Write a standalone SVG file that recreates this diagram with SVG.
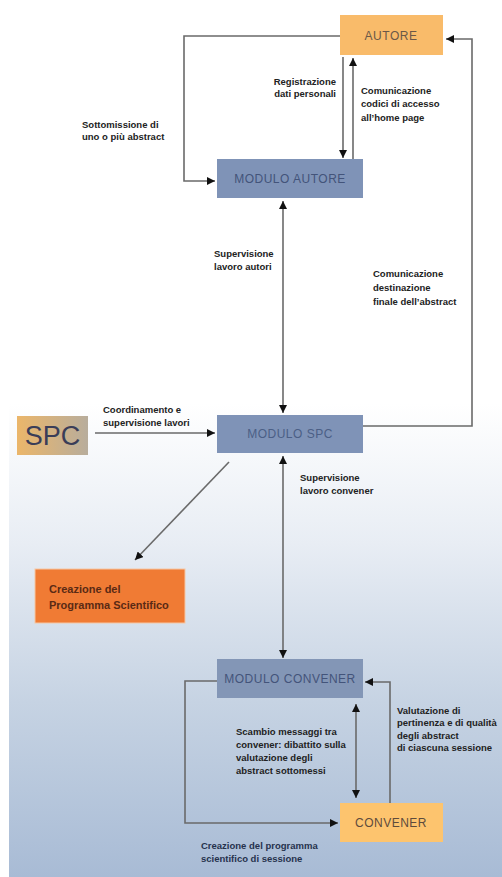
<svg xmlns="http://www.w3.org/2000/svg" width="502" height="877" viewBox="0 0 502 877">
<defs>
<linearGradient id="bg" x1="0" y1="0" x2="0" y2="1">
<stop offset="0" stop-color="#ffffff"/>
<stop offset="0.46" stop-color="#ffffff"/>
<stop offset="0.62" stop-color="#e8edf4"/>
<stop offset="0.8" stop-color="#c6d3e3"/>
<stop offset="1" stop-color="#a8bbd5"/>
</linearGradient>
<linearGradient id="spcg" x1="0" y1="0" x2="1" y2="0">
<stop offset="0" stop-color="#ebb66a"/>
<stop offset="1" stop-color="#b8ad9c"/>
</linearGradient>
<marker id="ah" markerWidth="8" markerHeight="8" refX="8" refY="4" orient="auto-start-reverse" markerUnits="userSpaceOnUse">
<path d="M0,0 L8,4 L0,8 z" fill="#111"/>
</marker>
<style>
.ln{fill:none;stroke:#6a6a6a;stroke-width:1.6}
.lb{font-family:"Liberation Sans",Arial,sans-serif;font-weight:bold;font-size:9.5px;fill:#222}
.mod{fill:#7f93b7}
.mt{font-family:"Liberation Sans",Arial,sans-serif;font-size:12px;letter-spacing:0.5px;fill:#43547a;text-anchor:middle}
.ot{font-family:"Liberation Sans",Arial,sans-serif;font-size:12px;letter-spacing:0.5px;fill:#6b5848;text-anchor:middle}
</style>
</defs>
<rect x="0" y="0" width="502" height="877" fill="#ffffff"/>
<rect x="9" y="0" width="493" height="877" fill="url(#bg)"/>

<g id="connectors">
<path class="ln" d="M340,36 H184 V181 H215" marker-end="url(#ah)"/>
<path class="ln" d="M343,57 V158" marker-end="url(#ah)"/>
<path class="ln" d="M353,159 V58" marker-end="url(#ah)"/>
<path class="ln" d="M283,201 V413" marker-start="url(#ah)" marker-end="url(#ah)"/>
<path class="ln" d="M363,426 H472 V39 H446" marker-end="url(#ah)"/>
<path class="ln" d="M95,433 H215" marker-end="url(#ah)"/>
<path class="ln" d="M229,462 L135,560" marker-end="url(#ah)"/>
<path class="ln" d="M283,456 V658" marker-start="url(#ah)" marker-end="url(#ah)"/>
<path class="ln" d="M217,681 H185 V823 H338" marker-end="url(#ah)"/>
<path class="ln" d="M390,803 V682 H365" marker-end="url(#ah)"/>
<path class="ln" d="M356,704 V798" marker-start="url(#ah)" marker-end="url(#ah)"/>
</g>

<g id="autore">
<rect x="340" y="15" width="103" height="40" fill="#f9bb6a"/>
<text class="ot" x="391" y="40">AUTORE</text>
</g>
<g id="modulo-autore">
<rect class="mod" x="217" y="159" width="146" height="39"/>
<text class="mt" x="290" y="183">MODULO AUTORE</text>
</g>
<g id="spc">
<rect x="17" y="416" width="71" height="39" fill="url(#spcg)"/>
<text x="52.5" y="445" font-family="Liberation Sans,Arial,sans-serif" font-size="27" fill="#3a3d58" text-anchor="middle">SPC</text>
</g>
<g id="modulo-spc">
<rect class="mod" x="217" y="415" width="146" height="38"/>
<text class="mt" x="290" y="438" style="fill:#4b5f86">MODULO SPC</text>
</g>
<g id="creazione">
<rect x="35" y="569" width="150" height="54" fill="#f07b34" stroke="#f6c7a4" stroke-width="1"/>
<text class="lb" x="49" y="593" style="font-size:11px;fill:#5a2a14">Creazione del</text>
<text class="lb" x="49" y="609" style="font-size:11px;fill:#5a2a14">Programma Scientifico</text>
</g>
<g id="modulo-convener">
<rect class="mod" x="217" y="659" width="146" height="39" style="fill:#8396b6"/>
<text class="mt" x="290" y="683">MODULO CONVENER</text>
</g>
<g id="convener">
<rect x="340" y="803" width="103" height="39" fill="#fdc46e"/>
<text class="ot" x="391" y="827" style="fill:#5e4b3c">CONVENER</text>
</g>

<g id="labels">
<text class="lb" x="336" y="85" text-anchor="end">Registrazione</text>
<text class="lb" x="336" y="97" text-anchor="end">dati personali</text>
<text class="lb" x="361" y="93.5">Comunicazione</text>
<text class="lb" x="361" y="107">codici di accesso</text>
<text class="lb" x="361" y="121">all’home page</text>
<text class="lb" x="82" y="127.5">Sottomissione di</text>
<text class="lb" x="82" y="139.5">uno o più abstract</text>
<text class="lb" x="214" y="256.5">Supervisione</text>
<text class="lb" x="214" y="269.5">lavoro autori</text>
<text class="lb" x="373" y="276.5">Comunicazione</text>
<text class="lb" x="373" y="290.5">destinazione</text>
<text class="lb" x="373" y="304.5">finale dell’abstract</text>
<text class="lb" x="103" y="412.5">Coordinamento e</text>
<text class="lb" x="103" y="425.5">supervisione lavori</text>
<text class="lb" x="300" y="480.5">Supervisione</text>
<text class="lb" x="300" y="493.5">lavoro convener</text>
<text class="lb" x="236" y="734.5">Scambio messaggi tra</text>
<text class="lb" x="236" y="747.5">convener: dibattito sulla</text>
<text class="lb" x="236" y="760.5">valutazione degli</text>
<text class="lb" x="236" y="774">abstract sottomessi</text>
<text class="lb" x="397" y="713.5">Valutazione di</text>
<text class="lb" x="397" y="726">pertinenza e di qualità</text>
<text class="lb" x="397" y="738.5">degli abstract</text>
<text class="lb" x="397" y="751">di ciascuna sessione</text>
<text class="lb" x="201" y="848.5" style="fill:#26324d">Creazione del programma</text>
<text class="lb" x="201" y="861.5" style="fill:#26324d">scientifico di sessione</text>
</g>
</svg>
